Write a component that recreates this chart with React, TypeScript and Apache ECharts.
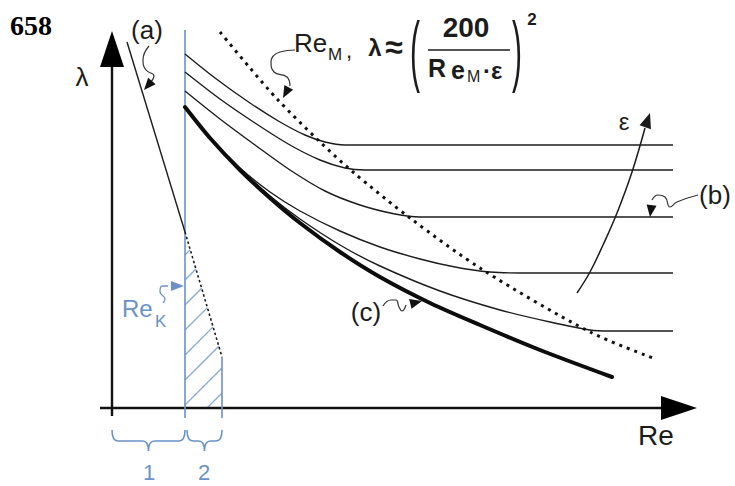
import React, { useEffect, useRef } from "react";
import * as echarts from "echarts";

// Diagram units: x = Re (0 at the λ axis), y = λ (0 at the Re axis)
const lambdaAxis = [[0, -8], [0, 345]];
const reAxis = [[-12, 0], [552, 0]];
const axisArrowTips = [[0, 377, 0, 300], [585, 0, 500, 0]];

const laminarSolid = [[15, 366], [73, 176]];
const laminarDashed = [[73, 176], [110, 51]];
const reKLine = [[73, 378], [73, -10]];
const transitionEdge = [[110, 51], [110, -10]];

const smoothPipe = [[73, 301], [98, 270], [128, 238], [158, 210], [188, 185], [228, 156], [268, 131], [318, 105], [368, 83], [428, 58], [500, 31]];
const rough1 = [[73, 354], [103, 330], [138, 305], [168, 286], [193, 273], [213, 266], [233, 263], [561, 263]];
const rough2 = [[73, 336], [108, 309], [143, 285], [178, 263], [208, 248], [233, 240], [253, 238], [561, 238]];
const rough3 = [[73, 317], [108, 289], [143, 263], [178, 238], [213, 217], [248, 203], [283, 194], [308, 191], [561, 191]];
const rough4 = [[73, 301], [98, 270], [128, 240], [158, 216], [188, 197], [228, 177], [268, 161], [308, 149], [343, 141], [378, 136], [408, 135], [561, 135]];
const rough5 = [[73, 301], [98, 270], [128, 239], [158, 212], [188, 189], [228, 163], [268, 142], [328, 117], [388, 98], [438, 86], [478, 78], [498, 77], [561, 77]];
const reMBoundary = [[108, 376], [138, 340], [166, 308], [206, 268], [241, 236], [298, 190], [371, 138], [478, 76], [541, 50]];

const epsilonPath = [[465, 115], [478, 136], [491, 163], [505, 195], [520, 236], [533, 280]];
const epsilonTip = [[538, 295, 533, 280]];

const calloutA = [[37, 362], [31, 348], [34, 338], [42, 332], [39, 326]];
const calloutReM = [[183, 358], [168, 356], [159, 346], [162, 336], [175, 331], [178, 322]];
const calloutB = [[586, 213], [565, 206], [558, 201], [553, 211], [546, 213], [540, 208]];
const calloutC = [[271, 102], [279, 108], [284, 108], [287, 101], [290, 97], [294, 103]];
const calloutReK = [[51, 105], [53, 109], [48, 116], [50, 122], [56, 122]];
const calloutTips = [[32, 318, 39, 326], [171, 310, 177, 321], [538, 191, 540, 206], [310, 107, 294, 103]];
const calloutReKTip = [[72, 122, 56, 122]];

const zoneSpans = [[0, 73], [75, 110]];

const INK = "#1c1c1c";
const BLUE = "#6b92c6";
const HATCH = "#86a8d4";
const SANS = "'Liberation Sans', Arial, sans-serif";

const line = (data: number[][], width: number, color: string, extra: any = {}) => ({
  type: "line",
  data,
  symbol: "none",
  silent: true,
  clip: false,
  smooth: extra.smooth ?? 0,
  lineStyle: { width, color, type: extra.dash ?? "solid", cap: extra.cap ?? "butt", join: "round" },
  z: extra.z ?? 3,
});

const arrows = (data: number[][], len: number, half: number, color: string) => ({
  type: "custom",
  data,
  silent: true,
  encode: { x: 0, y: 1 },
  z: 5,
  renderItem: (_p: any, api: any) => {
    const tip = api.coord([api.value(0), api.value(1)]);
    const from = api.coord([api.value(2), api.value(3)]);
    const dx = tip[0] - from[0];
    const dy = tip[1] - from[1];
    const L = Math.hypot(dx, dy) || 1;
    const ux = dx / L;
    const uy = dy / L;
    const bx = tip[0] - ux * len;
    const by = tip[1] - uy * len;
    return {
      type: "polygon",
      shape: { points: [tip, [bx - uy * half, by + ux * half], [bx + uy * half, by - ux * half]] },
      style: { fill: color },
    };
  },
});

// Diagonal hatching of the transition zone, bounded by Re_K, the zone edge,
// the Re axis and the dashed continuation of line (a)
const hatchSeries = {
  type: "custom",
  data: [[reKLine[0][0], transitionEdge[0][0]]],
  silent: true,
  encode: { x: [0, 1] },
  z: 2,
  renderItem: (_p: any, api: any) => {
    const topL = api.coord(laminarDashed[0]);
    const topR = api.coord(laminarDashed[1]);
    const bottom = api.coord([0, 0])[1];
    const xL = topL[0];
    const xR = topR[0];
    const s = (topR[1] - topL[1]) / (xR - xL);
    const step = 25;
    const children: any[] = [];
    for (let c = topL[1] + 23; c < bottom + (xR - xL); c += step) {
      const xs = Math.max(xL, xL + c - bottom);
      const xe = Math.min(xR, xL + (c - topL[1]) / (1 + s));
      if (xe > xs) {
        children.push({
          type: "line",
          shape: { x1: xs, y1: c - (xs - xL), x2: xe, y2: c - (xe - xL) },
          style: { stroke: HATCH, lineWidth: 1.3 },
        });
      }
    }
    return { type: "group", children };
  },
};

// Curly braces under the Re axis marking zones 1 and 2
const braceSeries = {
  type: "custom",
  data: zoneSpans,
  silent: true,
  encode: { x: [0, 1] },
  z: 2,
  renderItem: (_p: any, api: any) => {
    const a = api.coord([api.value(0), 0]);
    const b = api.coord([api.value(1), 0]);
    const y0 = a[1] + 22;
    const d = 11;
    const r = 6;
    const xa = a[0];
    const xb = b[0];
    const xm = (xa + xb) / 2;
    const p =
      `M${xa},${y0} Q${xa},${y0 + d} ${xa + r},${y0 + d} L${xm - r},${y0 + d} ` +
      `Q${xm},${y0 + d} ${xm},${y0 + d + 10} Q${xm},${y0 + d} ${xm + r},${y0 + d} ` +
      `L${xb - r},${y0 + d} Q${xb},${y0 + d} ${xb},${y0}`;
    return {
      type: "path",
      shape: { pathData: p },
      style: { fill: "none", stroke: BLUE, lineWidth: 1.6 },
    };
  },
};

const txt = (text: string, x: number, y: number, font: string, color = INK, align = "center", extra: any = {}) => ({
  type: "text",
  x,
  y,
  silent: true,
  z: 10,
  ...extra,
  style: { text, font, fill: color, textAlign: align, textVerticalAlign: "middle" },
});

export default function App() {
  const ref = useRef<HTMLDivElement>(null);

  useEffect(() => {
    if (!ref.current) return;
    const chart = echarts.init(ref.current, null, { renderer: "svg" });
    chart.setOption({
      animation: false,
      backgroundColor: "#ffffff",
      grid: { left: 0, right: 0, top: 0, bottom: 0 },
      xAxis: { type: "value", min: -112, max: 623, show: false },
      yAxis: { type: "value", min: -78, max: 408, show: false },
      series: [
        hatchSeries,
        braceSeries,
        line(lambdaAxis, 2.4, "#111"),
        line(reAxis, 2.4, "#111"),
        arrows(axisArrowTips, 36, 12, "#000"),
        line(reKLine, 1.6, BLUE),
        line(transitionEdge, 1.6, BLUE),
        line(laminarSolid, 1.4, INK),
        line(laminarDashed, 1.6, INK, { dash: [2.5, 2.5] }),
        line(rough1, 1.4, INK, { smooth: 0.3 }),
        line(rough2, 1.4, INK, { smooth: 0.3 }),
        line(rough3, 1.4, INK, { smooth: 0.3 }),
        line(rough4, 1.4, INK, { smooth: 0.3 }),
        line(rough5, 1.4, INK, { smooth: 0.3 }),
        line(smoothPipe, 4, "#0d0d0d", { smooth: 0.3, cap: "round", z: 4 }),
        line(reMBoundary, 3, "#111", { smooth: 0.3, dash: [3, 5], z: 4 }),
        line(epsilonPath, 1.5, INK, { smooth: 0.4 }),
        arrows(epsilonTip, 15, 6, INK),
        line(calloutA, 1.2, "#333", { smooth: 0.5 }),
        line(calloutReM, 1.2, "#333", { smooth: 0.5 }),
        line(calloutB, 1.2, "#333", { smooth: 0.5 }),
        line(calloutC, 1.2, "#333", { smooth: 0.5 }),
        arrows(calloutTips, 12, 5, "#111"),
        line(calloutReK, 1.3, BLUE, { smooth: 0.5 }),
        arrows(calloutReKTip, 13, 5, BLUE),
      ],
      graphic: [
        txt("658", 31, 25, "bold 28px 'Liberation Serif', 'Times New Roman', serif", "#000"),
        txt("λ", 82, 77, `26px ${SANS}`),
        txt("Re", 656, 435, `28px ${SANS}`),
        txt("(a)", 147, 30, `26px ${SANS}`),
        txt("(b)", 715, 195, `26px ${SANS}`),
        txt("(c)", 366, 312, `26px ${SANS}`),
        txt("ε", 624, 121, `24px ${SANS}`),
        txt("Re", 122, 308, `24px ${SANS}`, BLUE, "left"),
        txt("K", 155, 321, `17px ${SANS}`, BLUE, "left"),
        txt("1", 149, 472, `22px ${SANS}`, BLUE),
        txt("2", 204, 472, `22px ${SANS}`, BLUE),
        txt("Re", 294, 43, `26px ${SANS}`, INK, "left"),
        txt("M", 328, 54, `17px ${SANS}`, INK, "left"),
        txt(",", 346, 50, `22px ${SANS}`, INK, "left"),
        txt("λ", 375, 47, `bold 24px ${SANS}`),
        txt("≈", 394, 47, `bold 32px ${SANS}`),
        txt("(", 415, 51, `30px ${SANS}`, INK, "center", { scaleY: 2.6 }),
        txt("200", 466, 27, `bold 28px ${SANS}`),
        {
          type: "line",
          silent: true,
          z: 10,
          shape: { x1: 428, y1: 50, x2: 510, y2: 50 },
          style: { stroke: "#555", lineWidth: 2 },
        },
        txt("R", 428, 68, `bold 25px ${SANS}`, INK, "left"),
        txt("e", 451, 70, `bold 25px ${SANS}`, INK, "left"),
        txt("M", 467, 76, `16px ${SANS}`, INK, "left"),
        txt("·ε", 483, 70, `bold 24px ${SANS}`, INK, "left"),
        txt(")", 517, 51, `30px ${SANS}`, INK, "center", { scaleY: 2.6 }),
        txt("2", 532, 19, `bold 17px ${SANS}`),
      ],
    });
    return () => chart.dispose();
  }, []);

  return <div ref={ref} style={{ position: "fixed", left: 0, top: 0, width: 735, height: 486 }} />;
}
